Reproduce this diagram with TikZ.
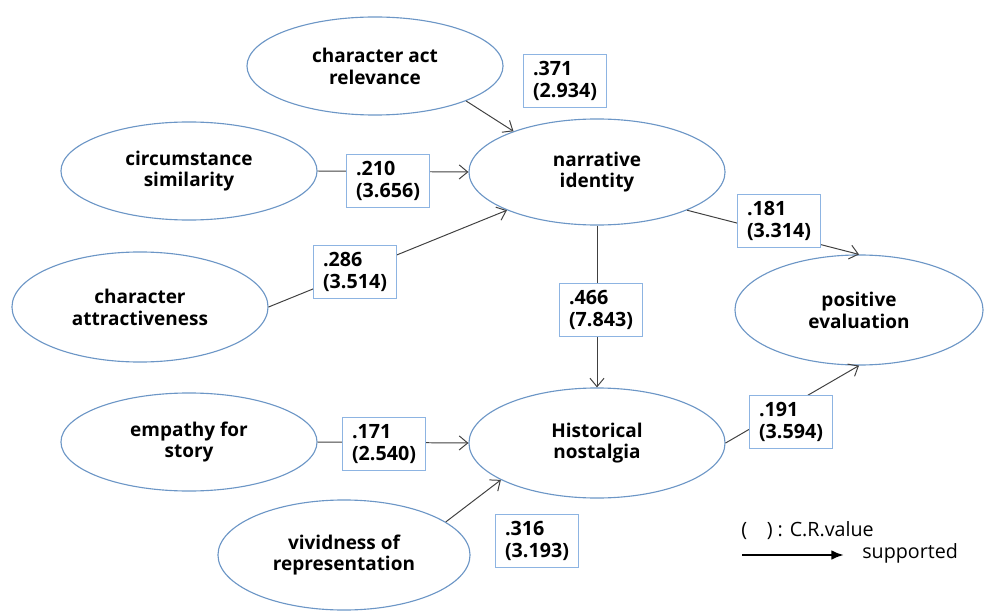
\documentclass[tikz,border=0pt]{standalone}
\usepackage{fontspec}
\setmainfont{Open Sans}
\usetikzlibrary{shapes.geometric,arrows.meta}
\definecolor{ellblue}{RGB}{108,150,198}
\definecolor{boxblue}{RGB}{141,180,226}
\definecolor{edgegray}{RGB}{64,64,64}
\begin{document}
\begin{tikzpicture}[x=0.025cm,y=-0.025cm,
    construct/.style={ellipse,draw=ellblue,line width=0.8pt,minimum width=6.4cm,
      minimum height=2.45cm,align=center,font=\fontsize{13.5}{15.5}\selectfont\bfseries},
    tall/.style={minimum height=2.75cm},
    coef/.style={draw=boxblue,fill=white,line width=0.8pt,minimum width=2.07cm,
      minimum height=1.33cm,inner sep=3pt,align=left,font=\fontsize{14}{15.5}\selectfont\bfseries},
    legend/.style={anchor=west,inner sep=0pt,font=\fontsize{14}{16}\selectfont},
    effect/.style={draw=edgegray,line width=0.7pt,-{Straight Barb[length=6pt,width=10pt]}}]
  \useasboundingbox (0,0) rectangle (984,616);
  \node[construct] (car) at (375,66) {character act\\relevance};
  \node[construct] (cs) at (189,171) {circumstance\\similarity};
  \node[construct,minimum height=2.65cm] (nid) at (597,172) {narrative\\identity};
  \node[construct,tall] (attr) at (140,307) {character\\attractiveness};
  \node[construct,tall,minimum width=6.2cm] (pe) at (859,310) {positive\\evaluation};
  \node[construct] (emp) at (189,442) {empathy for\\story};
  \node[construct,tall] (hn) at (597,443) {Historical\\nostalgia};
  \node[construct,tall,minimum width=6.3cm] (viv) at (344,555) {vividness of\\representation};
  \begin{scope}
    \draw[effect] (car.-21) -- (nid.154);
    \draw[effect] (cs.east) -- (nid.west);
    \draw[effect] (attr.east) -- (nid.203);
    \draw[effect] (nid.-23) -- (pe.north);
    \draw[effect] (nid.south) -- (hn.north);
    \draw[effect] (emp.east) -- (hn.west);
    \draw[effect] (hn.east) -- (pe.south);
    \draw[effect] (viv.18) -- (hn.201);
  \end{scope}
  \node[coef] (c1) at (565,81) {.371\\ (2.934)};
  \node[coef] (c2) at (388,181) {.210\\ (3.656)};
  \node[coef] (c3) at (355,272) {.286\\ (3.514)};
  \node[coef] (c4) at (601,310) {.466\\ (7.843)};
  \node[coef] (c5) at (779,221) {.181\\ (3.314)};
  \node[coef] (c6) at (384,444) {.171\\ (2.540)};
  \node[coef] (c7) at (791,422) {.191\\ (3.594)};
  \node[coef] (c8) at (537,541) {.316\\ (3.193)};
  \node[legend] (crv) at (741,531) {(\quad) : C.R.value};
  \coordinate (la) at (742,555);
  \coordinate (lb) at (844,555);
  \draw[line width=2pt,-{Latex[length=9pt,width=7pt]}] (la) -- (lb);
  \node[legend] (sup) at (862,553) {supported};
\end{tikzpicture}
\end{document}
